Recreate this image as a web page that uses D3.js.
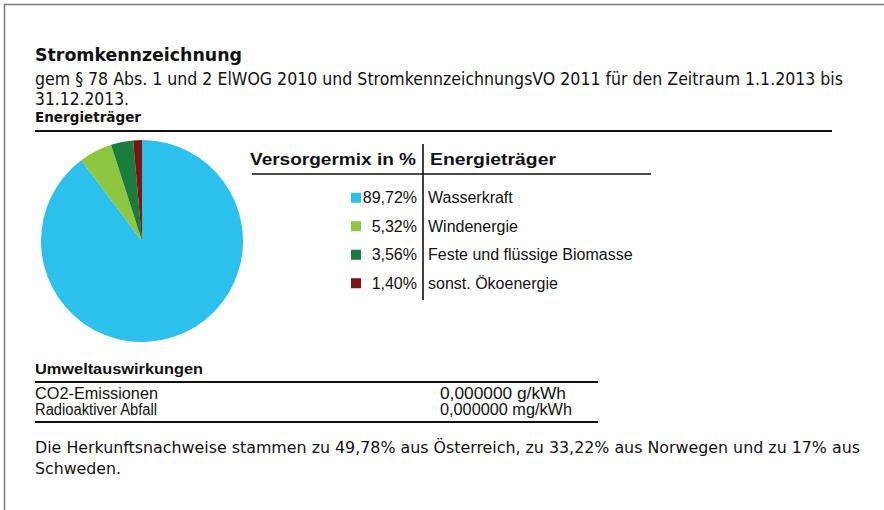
<!DOCTYPE html>
<html><head><meta charset="utf-8">
<script src="https://cdn.jsdelivr.net/npm/d3@7"></script>
<style>body{margin:0;background:#fff}svg{display:block}</style>
</head><body><div id="chart"></div>
<script>
const categories = ["Wasserkraft", "Windenergie", "Feste und flüssige Biomasse", "sonst. Ökoenergie"];
const shares = [89.72, 5.32, 3.56, 1.40];
const colors = ["#2bc1ec", "#8dc63f", "#1b7d3c", "#7d1517"];
const valueLabels = ["89,72%", "5,32%", "3,56%", "1,40%"];
const envLabels = ["CO2-Emissionen", "Radioaktiver Abfall"];
const envValues = ["0,000000 g/kWh", "0,000000 mg/kWh"];
const titleText = "Stromkennzeichnung";
const subLines = ["gem § 78 Abs. 1 und 2 ElWOG 2010 und StromkennzeichnungsVO 2011 für den Zeitraum 1.1.2013 bis", "31.12.2013."];
const footLines = ["Die Herkunftsnachweise stammen zu 49,78% aus Österreich, zu 33,22% aus Norwegen und zu 17% aus", "Schweden."];

const W = 884, H = 510;
const svg = d3.select("#chart").append("svg").attr("width", W).attr("height", H);
svg.append("rect").attr("width", W).attr("height", H).attr("fill", "#fff");
// frame
svg.append("path").attr("d", `M4.5,${H} V4.5 H${W}`).attr("fill", "none").attr("stroke", "#777").attr("stroke-width", 1.5);

const tah = "'DejaVu Sans Condensed','DejaVu Sans',sans-serif";
const ar = "'Liberation Sans',Arial,sans-serif";

function txt(x, y, s, opt) {
  const t = svg.append("text").attr("x", x).attr("y", y).text(s)
    .attr("font-family", opt.f || ar).attr("font-size", opt.size)
    .attr("font-weight", opt.bold ? "bold" : "normal").attr("fill", opt.fill || "#111");
  if (opt.len) t.attr("textLength", opt.len).attr("lengthAdjust", "spacingAndGlyphs");
  if (opt.anchor) t.attr("text-anchor", opt.anchor);
  return t;
}

txt(35, 61, titleText, {f: tah, size: 18.5, bold: true, len: 207});
txt(35, 85, subLines[0], {f: tah, size: 17, len: 808});
txt(35, 104.5, subLines[1], {f: tah, size: 17, len: 94});
txt(35, 122, "Energieträger", {f: tah, size: 14.5, bold: true, len: 106});
svg.append("line").attr("x1", 35).attr("x2", 832).attr("y1", 131).attr("y2", 131).attr("stroke", "#111").attr("stroke-width", 2.2);

// pie
const pie = d3.pie().sort(null).value(d => d)(shares);
const arc = d3.arc().innerRadius(0).outerRadius(101);
svg.append("g").attr("transform", "translate(142,241)")
  .selectAll("path").data(pie).join("path")
  .attr("d", arc).attr("fill", (d, i) => colors[i]);

// table
txt(250, 165, "Versorgermix in %", {size: 17, bold: true, len: 166});
txt(430, 165, "Energieträger", {size: 17, bold: true, len: 126});
svg.append("line").attr("x1", 252).attr("x2", 651).attr("y1", 174).attr("y2", 174).attr("stroke", "#111").attr("stroke-width", 1.6);
svg.append("line").attr("x1", 423).attr("x2", 423).attr("y1", 144).attr("y2", 300).attr("stroke", "#111").attr("stroke-width", 1.6);

const rowY = d3.scaleBand().domain(categories).range([184, 298]).paddingInner(0);
categories.forEach((c, i) => {
  const cy = rowY(c) + rowY.bandwidth() / 2 - 0.5;
  svg.append("rect").attr("x", 351).attr("y", cy - 5).attr("width", 10).attr("height", 10).attr("fill", colors[i]);
  txt(417, cy + 5.5, valueLabels[i], {size: 16, anchor: "end"});
  txt(428, cy + 5.5, c, {size: 16});
});

// environment
txt(35, 374, "Umweltauswirkungen", {size: 14.5, bold: true, len: 168});
svg.append("line").attr("x1", 35).attr("x2", 598).attr("y1", 382).attr("y2", 382).attr("stroke", "#111").attr("stroke-width", 2);
const envX = [123, 122];
const envVX = [126, 132];
envLabels.forEach((l, i) => {
  const y = 398.5 + i * 16;
  txt(35, y, l, {size: 16, len: envX[i]});
  txt(440, y, envValues[i], {size: 16, len: envVX[i]});
});
svg.append("line").attr("x1", 35).attr("x2", 598).attr("y1", 422).attr("y2", 422).attr("stroke", "#111").attr("stroke-width", 2);

txt(35, 453, footLines[0], {f: tah, size: 16.5, len: 825});
txt(35, 474, footLines[1], {f: tah, size: 16.5, len: 86});
</script></body></html>
